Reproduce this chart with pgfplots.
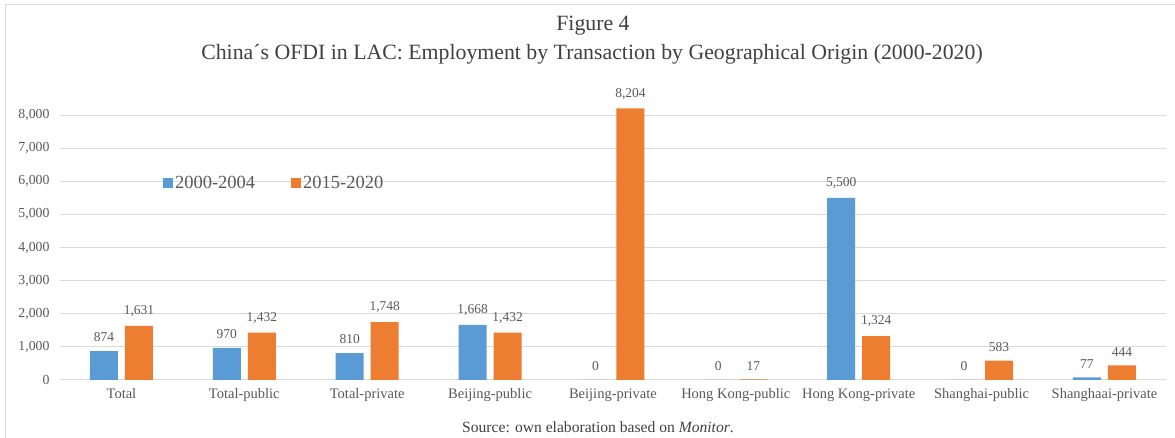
\documentclass[border=0pt]{standalone}
\usepackage{pgfplots}
\pgfplotsset{compat=1.18}
\usepackage{fontspec}
\setmainfont{Liberation Serif}
\definecolor{cblue}{HTML}{5B9BD5}
\definecolor{corange}{HTML}{ED7D31}
\definecolor{tgray}{HTML}{595959}
\definecolor{ttitle}{HTML}{404040}
\definecolor{ggray}{HTML}{D9D9D9}
\pgfplotsset{/pgf/number format/.cd, 1000 sep={,}, assume math mode=true}
\begin{document}
\begin{tikzpicture}[x=1pt,y=1pt]
\useasboundingbox (0,0) rectangle (1175,438);
\draw[ggray] (5.5,0) -- (5.5,433.5) -- (1175,433.5);
\begin{axis}[
  at={(60pt,58pt)}, anchor=south west, scale only axis,
  width=1106pt, height=298pt,
  ybar=7pt, bar width=28pt,
  xmin=-0.5, xmax=8.5, ymin=0, ymax=9000,
  xtick={0,...,8},
  xticklabels={Total,Total-public,Total-private,Beijing-public,Beijing-private,Hong Kong-public,Hong Kong-private,Shanghai-public,Shanghaai-private},
  ytick={0,1000,...,8000},
  ymajorgrids, grid style={ggray, line width=1pt},
  axis x line*=bottom, axis y line*=left,
  x axis line style={ggray, line width=1pt, -},
  y axis line style={draw=none},
  major tick length=0pt,
  yticklabel style={text=tgray, font=\fontsize{13.8}{15}\selectfont, xshift=-7pt},
  xticklabel style={text=tgray, font=\fontsize{14.5}{16}\selectfont, anchor=base, yshift=-19pt},
  nodes near coords,
  nodes near coords style={text=tgray, font=\fontsize{13.5}{15}\selectfont, anchor=south, inner sep=0pt, yshift=9pt},
  legend style={at={(0.093,0.661)}, anchor=west, draw=none, fill=none, inner sep=0pt,
     font=\fontsize{18.5}{20}\selectfont, text=tgray,
     /tikz/every even column/.append style={column sep=34pt}},
  legend columns=2,
  legend image code/.code={\fill[#1] (0pt,-5pt) rectangle (10pt,5pt);},
]
\addplot[fill=cblue, draw=none] coordinates {(0,874) (1,970) (2,810) (3,1668) (4,0) (5,0) (6,5500) (7,0) (8,77)};
\addplot[fill=corange, draw=none] coordinates {(0,1631) (1,1432) (2,1748) (3,1432) (4,8204) (5,17) (6,1324) (7,583) (8,444)};
\legend{2000-2004,2015-2020}
\end{axis}
\node[text=ttitle, font=\fontsize{21.8}{24}\selectfont, anchor=base] at (593,407.5) {Figure 4};
\node[text=ttitle, font=\fontsize{21.8}{24}\selectfont, anchor=base] at (592,378.5) {China´s OFDI in LAC: Employment by Transaction by Geographical Origin (2000-2020)};
\node[text=ttitle, font=\fontsize{15.6}{17}\selectfont, anchor=base] at (598,5.5) {Source: own elaboration based on \textit{Monitor}.};
\end{tikzpicture}
\end{document}
